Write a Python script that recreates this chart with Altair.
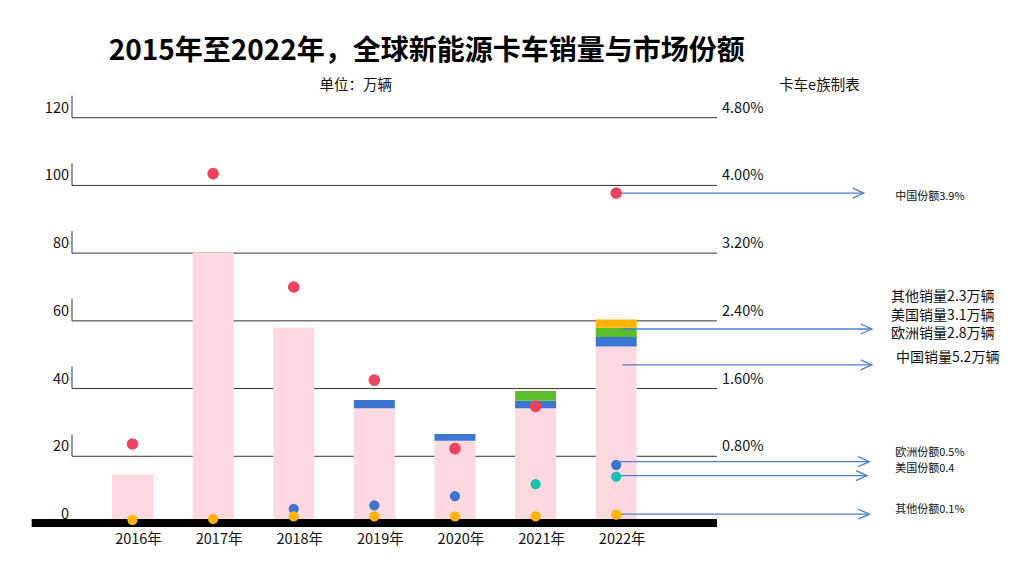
import altair as alt
import pandas as pd

FONT = "Noto Sans CJK SC"

# ---------------- data ----------------
years = [2016, 2017, 2018, 2019, 2020, 2021, 2022]
year_labels = ["2016年", "2017年", "2018年", "2019年", "2020年", "2021年", "2022年"]

# sales, 万辆
china_sales = [14.6, 80.2, 58.0, 34.2, 24.6, 34.2, 52.4]
europe_sales = [0, 0, 0, 2.4, 2.0, 2.2, 2.8]
us_sales = [0, 0, 0, 0, 0, 2.9, 2.8]
other_sales = [0, 0, 0, 0, 0, 0, 2.4]

# market share, %
china_share = [0.945, 4.14, 2.80, 1.70, 0.89, 1.39, 3.91]
europe_share = [None, None, 0.18, 0.22, 0.33, None, 0.70]
us_share = [None, None, None, None, None, 0.47, 0.56]
other_share = [0.05, 0.06, 0.09, 0.09, 0.09, 0.09, 0.11]

SHARE_FACTOR = 25  # 4.80% <-> 120 万辆

left_ticks = [0, 20, 40, 60, 80, 100, 120]
right_ticks = [20, 40, 60, 80, 100, 120]

regions = ["中国", "欧洲", "美国", "其他"]
bar_colors = ["#FFD9DF", "#3A76D2", "#5BBD2B", "#FFB400"]
dot_colors = ["#F2405D", "#3A76D2", "#16C1AE", "#FFB400"]

title_text = "2015年至2022年，全球新能源卡车销量与市场份额"
unit_text = "单位：万辆"
source_text = "卡车e族制表"

# annotation arrows (x in year units, y in 万辆 units)
arrow_start = [2022.0, 2022.08, 2022.08, 2022.0, 2022.0, 2022.0]
arrow_end = [2025.07, 2025.17, 2025.17, 2025.14, 2025.11, 2025.14]
arrow_y = [97.75, 57.6, 47.0, 18.4, 14.3, 2.9]

small_labels = ["中国份额3.9%", "欧洲份额0.5%", "美国份额0.4", "其他份额0.1%"]
small_label_y = [96.6, 21.0, 16.2, 4.1]
big_labels = ["其他销量2.3万辆", "美国销量3.1万辆", "欧洲销量2.8万辆", "中国销量5.2万辆"]
big_label_y = [67.0, 61.4, 56.1, 49.0]
big_label_x = [2025.41, 2025.41, 2025.41, 2025.47]

# ---------------- frames ----------------
sales_rows = []
for i, y in enumerate(years):
    for k, (r, arr) in enumerate(zip(regions, [china_sales, europe_sales, us_sales, other_sales])):
        sales_rows.append({"year": y, "region": r, "value": arr[i], "order": k,
                           "bcol": bar_colors[k]})
sales_df = pd.DataFrame(sales_rows)

share_rows = []
for k, (r, arr) in enumerate(zip(regions, [china_share, europe_share, us_share, other_share])):
    for i, y in enumerate(years):
        if arr[i] is not None:
            share_rows.append({"year": y, "region": r, "share": arr[i],
                               "yv": arr[i] * SHARE_FACTOR, "dcol": dot_colors[k],
                               "sz": 135 if r == "中国" else 105})
share_df = pd.DataFrame(share_rows)

X = alt.Scale(domain=[2014.456, 2026.959], nice=False, zero=False, padding=0)
Y = alt.Scale(domain=[-14.47, 152.4], nice=False, zero=False, padding=0)


def xq(f):
    return alt.X(f, type="quantitative", scale=X, axis=None)


def yq(f):
    return alt.Y(f, type="quantitative", scale=Y, axis=None)


GRID_X0, GRID_X1 = 2015.25, 2023.25

grid_df = pd.DataFrame({"v": left_ticks, "x0": GRID_X0, "x1": GRID_X1,
                        "top": [v + 6.5 for v in left_ticks],
                        "lab": [str(v) for v in left_ticks]})
right_df = pd.DataFrame({"v": right_ticks,
                         "lab": [f"{v / SHARE_FACTOR:.2f}%" for v in right_ticks]})

grid = alt.Chart(grid_df[grid_df.v > 0]).mark_rule(color="#333333", strokeWidth=1).encode(
    x=xq("x0"), x2="x1", y=yq("v"))
grid_ticks = alt.Chart(grid_df[grid_df.v > 0]).mark_rule(color="#333333", strokeWidth=1).encode(
    x=xq("x0"), y=yq("v"), y2="top")
left_labels = alt.Chart(grid_df).mark_text(
    align="right", baseline="middle", dy=-9, font=FONT, fontSize=14.5, color="#111111").encode(
    x=alt.value(61), y=yq("v"), text="lab")
right_labels = alt.Chart(right_df).mark_text(
    align="left", baseline="middle", dy=-9, font=FONT, fontSize=14.5, color="#111111").encode(
    x=alt.value(714), y=yq("v"), text="lab")

bars = alt.Chart(sales_df).transform_stack(
    stack="value", groupby=["year"], as_=["y0", "y1"],
    sort=[alt.SortField("order", order="ascending")]
).mark_bar(size=41).encode(
    x=xq("year"), y=yq("y0"), y2="y1",
    color=alt.Color("bcol:N", scale=None, legend=None))

base_df = pd.DataFrame({"a": [2014.75], "b": [GRID_X1], "lo": [-0.89], "hi": [1.48]})
baseline = alt.Chart(base_df).mark_rect(color="#000000").encode(
    x=xq("a"), x2="b", y=yq("lo"), y2="hi")

dots = alt.Chart(share_df).mark_circle(opacity=1).encode(
    x=xq("year"), y=yq("yv"),
    color=alt.Color("dcol:N", scale=None, legend=None),
    size=alt.Size("sz:Q", scale=None, legend=None))

xlab_df = pd.DataFrame({"year": years, "lab": year_labels, "yv": -4.7})
x_labels = alt.Chart(xlab_df).mark_text(
    align="center", baseline="middle", dx=6, font=FONT, fontSize=14.5, color="#111111").encode(
    x=xq("year"), y=yq("yv"), text="lab")

arrow_df = pd.DataFrame({"x0": arrow_start, "x1": arrow_end, "y": arrow_y})
arrows = alt.Chart(arrow_df).mark_rule(color="#4A7FD6", strokeWidth=1.3).encode(
    x=xq("x0"), x2="x1", y=yq("y"))
heads = alt.Chart(arrow_df).mark_point(
    shape="M-2.2,-1L0,0L-2.2,1", filled=False, size=100, strokeWidth=1.3,
    color="#4A7FD6", opacity=1).encode(x=xq("x1"), y=yq("y"))

small_df = pd.DataFrame({"x": 2025.46, "y": small_label_y, "t": small_labels})
small_text = alt.Chart(small_df).mark_text(
    align="left", baseline="middle", font=FONT, fontSize=11, color="#111111").encode(
    x=xq("x"), y=yq("y"), text="t")
big_df = pd.DataFrame({"x": big_label_x, "y": big_label_y, "t": big_labels})
big_text = alt.Chart(big_df).mark_text(
    align="left", baseline="middle", font=FONT, fontSize=14, color="#111111").encode(
    x=xq("x"), y=yq("y"), text="t")

head_df = pd.DataFrame({"x": [2019.65, 2018.77, 2024.52], "y": [139.4, 129.4, 129.4],
                        "t": [title_text, unit_text, source_text]})
title = alt.Chart(head_df.iloc[[0]]).mark_text(
    align="center", baseline="middle", font=FONT, fontSize=28, fontWeight="bold",
    color="#000000").encode(x=xq("x"), y=yq("y"), text="t")
subs = alt.Chart(head_df.iloc[[1, 2]]).mark_text(
    align="center", baseline="middle", font=FONT, fontSize=14.5, color="#111111").encode(
    x=xq("x"), y=yq("y"), text="t")

chart = alt.layer(
    grid, grid_ticks, bars, baseline, arrows, heads, dots,
    left_labels, right_labels, x_labels, small_text, big_text, title, subs
).properties(
    width=1008, height=565, padding=0, background="white",
    autosize=alt.AutoSizeParams(type="none")
).configure_view(stroke=None)

chart.save("out.html", embed_options={"renderer": "svg", "actions": False})
